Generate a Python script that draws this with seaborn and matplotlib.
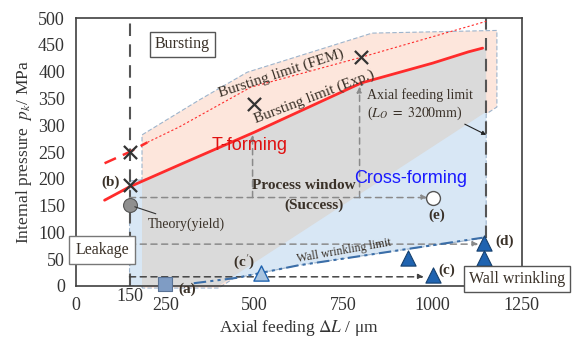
import matplotlib

matplotlib.use("Agg")
import matplotlib.pyplot as plt
import seaborn as sns

sns.set_theme(style="white")
plt.rcParams["font.family"] = ["Liberation Serif", "DejaVu Serif"]
plt.rcParams["mathtext.fontset"] = "stix"

# bursting limit from the experiments (solid red)
exp_x = [80, 150, 300, 500, 650, 800, 1000, 1100, 1140]
exp_p = [160, 185, 229, 287, 333, 379, 416, 437, 444]
# bursting limit from FEM (dashed red, thick then thin)
fem_x = [80, 150, 200]
fem_p = [229, 250, 268]
fem_tail_x = [200, 290, 490, 800, 1150]
fem_tail_p = [268, 297, 371, 427, 494]
# wall wrinkling limit (dash dot)
wrinkle_x = [330, 450, 620, 820, 1140]
wrinkle_p = [5, 15, 38, 58, 90]

# shaded regions
burst_x = [185, 185, 345, 480, 830, 1180, 1180, 400]
burst_p = [-4, 282, 347, 399, 472, 477, 334, -4]
window_x = [185, 185, 300, 500, 650, 800, 1000, 1100, 1150, 1150, 400]
window_p = [0, 196, 229, 287, 333, 379, 416, 437, 445, 325, 0]
crossf_x = [150, 150, 185, 1150, 1150, 820, 620, 450, 330]
crossf_p = [0, 196, 198, 330, 90, 58, 38, 15, 0]

# measured points
burst_pts_x = [150, 150, 500, 800]
burst_pts_p = [250, 188, 340, 427]
wrinkle_pts_x = [1000, 930, 1145, 1145]
wrinkle_pts_p = [20, 52, 80, 52]
cprime_x, cprime_p = [520], [24]
leak_x, leak_p = [250], [3]
theory_x, theory_p = [150], [151]
success_x, success_p = [1000], [165]

x_ticks = [0, 250, 500, 750, 1000, 1250]
y_ticks = list(range(0, 501, 50))

TXT = "#3a3128"
GREY = "#8a8a8a"
RED = "#ff2b2b"
BLUE_M = "#1f63b0"

fig, ax = plt.subplots(figsize=(5.76, 3.42), dpi=100)
fig.subplots_adjust(left=0.132, right=0.906, top=0.947, bottom=0.164)

# regions
ax.fill(burst_x, burst_p, facecolor="#fde6dc", edgecolor="#9db4cc", lw=0.8, ls=(0, (4, 2)), zorder=1, clip_on=False)
ax.fill(crossf_x, crossf_p, facecolor="#d8e7f5", edgecolor="#9db4cc", lw=0.8, ls=(0, (4, 2)), zorder=1.2)
ax.fill(window_x, window_p, facecolor="#dadada", edgecolor="none", zorder=1.4)

# guide lines
ax.plot([150, 150], [0, 500], color="#555555", lw=1.5, ls=(0, (6, 4)), zorder=2)
ax.plot([1150, 1150], [90, 500], color="#555555", lw=1.5, ls=(0, (6, 4)), zorder=2)

arrows = [((150, 165), (985, 165), GREY), ((150, 78), (1128, 78), GREY),
          ((150, 17), (975, 17), "#444444"), ((495, 165), (495, 282), GREY),
          ((795, 165), (795, 372), GREY)]
for start, end, col in arrows:
    ax.annotate("", xy=end, xytext=start, zorder=2,
                arrowprops=dict(arrowstyle="-|>", color=col, lw=1.1, ls=(0, (4, 3)), mutation_scale=8, shrinkA=0, shrinkB=0))

# limit lines
sns.lineplot(x=exp_x, y=exp_p, color=RED, lw=2, sort=False, estimator=None, ax=ax, zorder=3)
sns.lineplot(x=fem_x, y=fem_p, color=RED, lw=1.8, ls=(0, (5, 3)), sort=False, estimator=None, ax=ax, zorder=3)
sns.lineplot(x=fem_tail_x, y=fem_tail_p, color=RED, lw=0.8, ls=(0, (2, 2)), sort=False, estimator=None, ax=ax, zorder=3)
sns.lineplot(x=wrinkle_x, y=wrinkle_p, color="#3b6ea8", lw=1.5, ls=(0, (6, 2, 1.5, 2, 1.5, 2)), sort=False, estimator=None, ax=ax, zorder=3)

# markers
sns.scatterplot(x=burst_pts_x, y=burst_pts_p, marker="x", s=90, color="#333333", linewidth=1.6, ax=ax, zorder=5)
sns.scatterplot(x=wrinkle_pts_x, y=wrinkle_pts_p, marker="^", s=120, color=BLUE_M, edgecolor="#16406e", linewidth=0.8, ax=ax, zorder=5)
sns.scatterplot(x=cprime_x, y=cprime_p, marker="^", s=120, color="#a9c4e0", edgecolor=BLUE_M, linewidth=1.0, ax=ax, zorder=5)
sns.scatterplot(x=leak_x, y=leak_p, marker="s", s=110, color="#7f9cc4", edgecolor="#5a7396", linewidth=0.8, ax=ax, zorder=5, clip_on=False)
sns.scatterplot(x=theory_x, y=theory_p, marker="o", s=100, color="#8f8f8f", edgecolor="#555555", linewidth=0.8, ax=ax, zorder=5)
sns.scatterplot(x=success_x, y=success_p, marker="o", s=100, color="white", edgecolor="#555555", linewidth=1.0, ax=ax, zorder=5)

# texts
box = dict(boxstyle="square,pad=0.3", facecolor="white", edgecolor="#555555", lw=1)
ax.text(298, 451, "Bursting", fontsize=11.5, ha="center", va="center", color=TXT, bbox=box, zorder=6)
ax.text(73, 67, "Leakage", fontsize=11.5, ha="center", va="center", color=TXT,
        bbox=dict(boxstyle="square,pad=0.4", facecolor="white", edgecolor="#777777", lw=1), zorder=6, clip_on=False)
ax.text(1236, 13, "Wall wrinkling", fontsize=11.5, ha="center", va="center", color=TXT, bbox=box, zorder=6, clip_on=False)

ax.text(576, 396, "Bursting limit (FEM)", fontsize=11, rotation=18, ha="center", va="center", color=TXT, zorder=6)
ax.text(669, 353, "Bursting limit (Exp.)", fontsize=11, rotation=21, ha="center", va="center", color=TXT, zorder=6)
ax.text(752, 66, "Wall wrinkling limit", fontsize=8.5, rotation=10, ha="center", va="center", color=TXT, zorder=6)
ax.text(640, 188, "Process window", fontsize=11, fontweight="bold", ha="center", va="center", color=TXT, zorder=6)
ax.text(668, 151, "(Success)", fontsize=11, fontweight="bold", ha="center", va="center", color=TXT, zorder=6)
ax.text(486, 263, "T-forming", fontsize=13, family="Liberation Sans", color="#e01010", ha="center", va="center", zorder=6)
ax.text(938, 201, "Cross-forming", fontsize=13, family="Liberation Sans", color="#1a1aff", ha="center", va="center", zorder=6)
ax.text(817, 356, "Axial feeding limit", fontsize=10, ha="left", va="center", color=TXT, zorder=6)
ax.text(817, 323, r"($L_O\ =\ 3200\mathrm{mm}$)", fontsize=10, ha="left", va="center", color=TXT, zorder=6)
ax.annotate("", xy=(1150, 282), xytext=(1090, 302), zorder=6,
            arrowprops=dict(arrowstyle="-|>", color="#222222", lw=0.8, mutation_scale=6, shrinkA=0, shrinkB=0))
ax.annotate("Theory(yield)", xy=(150, 151), xytext=(200, 116), fontsize=10, color=TXT, va="center", zorder=6,
            arrowprops=dict(arrowstyle="-", color="#333333", lw=0.8, shrinkA=0, shrinkB=4))

for lab, x, y in [("(b)", 98, 194), ("(a)", 312, -7), ("(c$'$)", 472, 45),
                  ("(c)", 1039, 30), ("(d)", 1202, 84), ("(e)", 1011, 132)]:
    ax.text(x, y, lab, fontsize=11, fontweight="bold", ha="center", va="center", color=TXT, zorder=6, clip_on=False)
ax.text(150, -19, "150", fontsize=13, ha="center", va="center", color="#333333", clip_on=False)

ax.set_xlim(0, 1250)
ax.set_ylim(0, 500)
ax.set_xticks(x_ticks)
ax.set_yticks(y_ticks)
ax.tick_params(direction="in", length=4, width=1, colors="#333333", labelsize=13)
ax.tick_params(axis="x", pad=8)
ax.tick_params(axis="y", pad=8)
ax.set_xlabel(r"Axial feeding $\Delta L$ / μm", fontsize=12.5, color="#333333", labelpad=3)
ax.set_ylabel(r"Internal pressure  $p_k$/ MPa", fontsize=12.5, color="#333333", labelpad=3)
for sp in ax.spines.values():
    sp.set_color("#404040")
    sp.set_linewidth(1.2)

fig.savefig("out.png", dpi=100)
